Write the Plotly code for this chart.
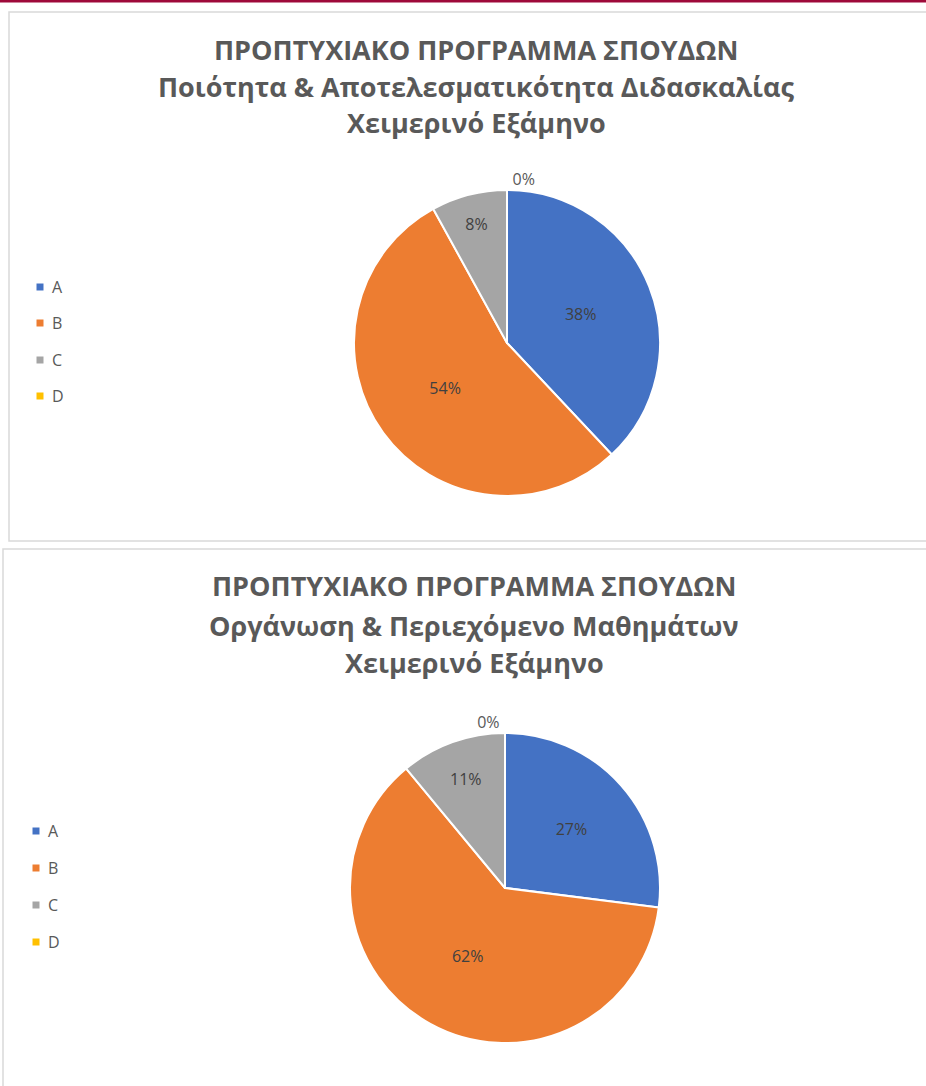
import plotly.graph_objects as go

W, H = 926, 1086

labels = ["A", "B", "C", "D"]
colors = ["#4472C4", "#ED7D31", "#A5A5A5", "#FFC000"]
values_teaching = [38, 54, 8, 0]
values_courses = [27, 62, 11, 0]

title_top = "ΠΡΟΠΤΥΧΙΑΚΟ ΠΡΟΓΡΑΜΜΑ ΣΠΟΥΔΩΝ"
subtitle_1 = "Ποιότητα & Αποτελεσματικότητα Διδασκαλίας"
subtitle_2 = "Οργάνωση & Περιεχόμενο Μαθημάτων"
semester = "Χειμερινό Εξάμηνο"


def px(x):
    return x / W


def py(y):
    return 1 - y / H


fig = go.Figure()

panels = [
    dict(values=values_teaching, sub=subtitle_1, cx=507, cy=343, r=153,
         title_y=[50, 87, 123], title_x=476, leg_x=40, leg_y=[287, 323, 360, 396],
         frame=(9, 12, 940, 541)),
    dict(values=values_courses, sub=subtitle_2, cx=505, cy=888, r=155,
         title_y=[585, 625, 662], title_x=474, leg_x=36, leg_y=[831, 868, 905, 942],
         frame=(3, 549, 940, 1100)),
]

shapes = []
annotations = []

# top red rule
shapes.append(dict(type="rect", xref="paper", yref="paper", x0=0, x1=1,
                   y0=py(2.5), y1=py(0), fillcolor="#9E0A3A", line=dict(width=0), layer="below"))

for p in panels:
    x0, y0, x1, y1 = p["frame"]
    shapes.append(dict(type="rect", xref="paper", yref="paper",
                       x0=px(x0), x1=px(x1), y0=py(y1), y1=py(y0),
                       line=dict(color="#D9D9D9", width=1.5), fillcolor="rgba(0,0,0,0)", layer="below"))
    r = p["r"]
    fig.add_trace(go.Pie(
        labels=labels, values=p["values"], sort=False, direction="clockwise", rotation=0,
        marker=dict(colors=colors, line=dict(color="white", width=2)),
        textinfo="percent", texttemplate="%{percent:.0%}",
        textposition=["inside", "inside", "inside", "outside"],
        insidetextorientation="horizontal",
        textfont=dict(family="Open Sans, sans-serif", size=16, color="#404040"),
        outsidetextfont=dict(family="Open Sans, sans-serif", size=16, color="#595959"),
        domain=dict(x=[px(p["cx"] - r), px(p["cx"] + r)], y=[py(p["cy"] + r), py(p["cy"] - r)]),
        showlegend=False, hoverinfo="label+percent",
    ))
    for txt, ty in zip([title_top, p["sub"], semester], p["title_y"]):
        annotations.append(dict(text="<b>" + txt + "</b>", xref="paper", yref="paper",
                                x=px(p["title_x"]), y=py(ty), xanchor="center", yanchor="middle",
                                showarrow=False,
                                font=dict(family="Open Sans, sans-serif", size=27, color="#595959")))
    for lab, col, ly in zip(labels, colors, p["leg_y"]):
        lx = p["leg_x"]
        shapes.append(dict(type="rect", xref="paper", yref="paper",
                           x0=px(lx - 3.5), x1=px(lx + 3.5), y0=py(ly + 3.5), y1=py(ly - 3.5),
                           fillcolor=col, line=dict(width=0)))
        annotations.append(dict(text=lab, xref="paper", yref="paper",
                                x=px(lx + 10), y=py(ly), xanchor="left", yanchor="middle",
                                showarrow=False,
                                font=dict(family="Open Sans, sans-serif", size=16, color="#595959")))

fig.update_layout(
    width=W, height=H, margin=dict(l=0, r=0, t=0, b=0),
    paper_bgcolor="white", plot_bgcolor="white",
    shapes=shapes, annotations=annotations,
)

fig.write_html("out.html", config={"displayModeBar": False},
               post_script="document.body.style.margin='0';document.body.style.overflow='hidden';")
